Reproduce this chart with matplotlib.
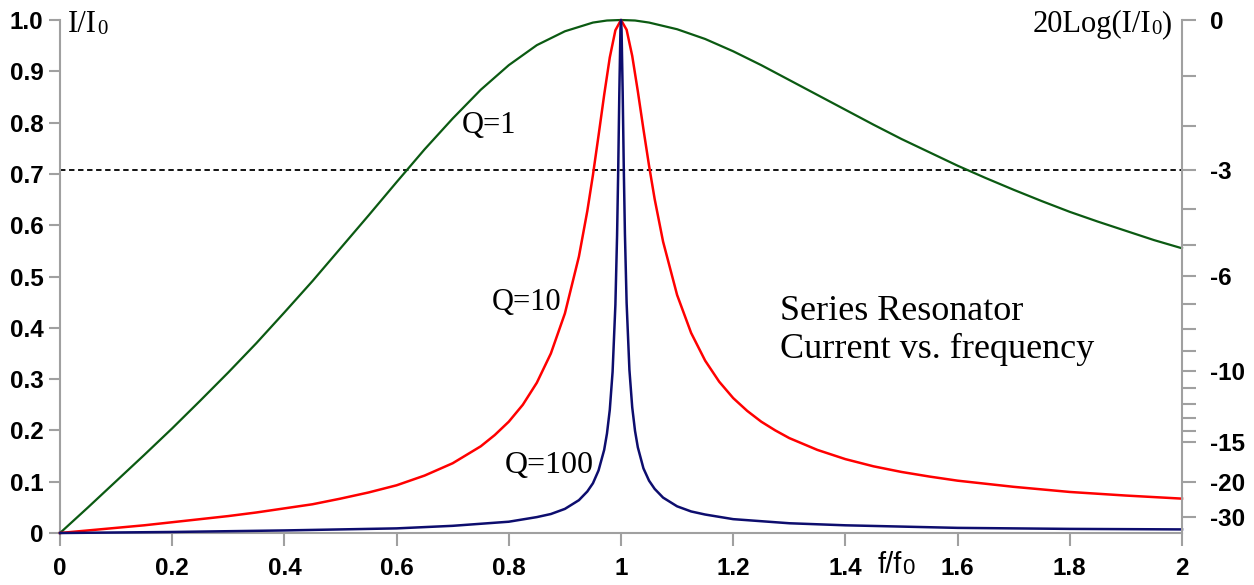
import numpy as np
import matplotlib
matplotlib.use("Agg")
import matplotlib.pyplot as plt

plt.rcParams['font.family'] = ['Liberation Sans', 'DejaVu Sans']

# values
q1_x = [0, 0.05, 0.1, 0.15, 0.2, 0.25, 0.3, 0.35, 0.4, 0.45, 0.5, 0.55, 0.6, 0.65,
        0.7, 0.75, 0.8, 0.85, 0.9, 0.95, 0.975, 1.0, 1.025, 1.05, 1.1, 1.15, 1.2, 1.25,
        1.3, 1.35, 1.4, 1.45, 1.5, 1.55, 1.6, 1.65, 1.7, 1.75, 1.8, 1.85, 1.9, 1.95, 2.0]
q1_y = [0, 0.050, 0.101, 0.152, 0.204, 0.258, 0.313, 0.370, 0.430, 0.491, 0.555, 0.619,
        0.684, 0.748, 0.808, 0.864, 0.912, 0.951, 0.978, 0.995, 0.999, 1.000, 0.999,
        0.995, 0.982, 0.963, 0.939, 0.912, 0.883, 0.854, 0.825, 0.796, 0.768, 0.742,
        0.716, 0.692, 0.669, 0.647, 0.626, 0.607, 0.589, 0.571, 0.555]

q10_x = [0, 0.05, 0.1, 0.15, 0.2, 0.25, 0.3, 0.35, 0.4, 0.45, 0.5, 0.55, 0.6, 0.65,
         0.7, 0.75, 0.775, 0.8, 0.825, 0.85, 0.875, 0.9, 0.925, 0.94, 0.95, 0.96, 0.97,
         0.98, 0.99, 1.0, 1.01, 1.02, 1.03, 1.04, 1.05, 1.06, 1.075, 1.1, 1.125, 1.15,
         1.175, 1.2, 1.225, 1.25, 1.275, 1.3, 1.35, 1.4, 1.45, 1.5, 1.55, 1.6, 1.7, 1.8,
         1.9, 2.0]
q10_y = [0, 0.005, 0.010, 0.015, 0.021, 0.027, 0.033, 0.040, 0.048, 0.056, 0.067, 0.079,
         0.093, 0.112, 0.136, 0.169, 0.191, 0.217, 0.250, 0.293, 0.350, 0.428, 0.539,
         0.628, 0.698, 0.775, 0.854, 0.927, 0.980, 1.000, 0.981, 0.930, 0.861, 0.787,
         0.716, 0.651, 0.568, 0.464, 0.390, 0.336, 0.295, 0.263, 0.238, 0.217, 0.200,
         0.185, 0.162, 0.144, 0.130, 0.119, 0.110, 0.102, 0.090, 0.080, 0.073, 0.067]

q100_x = [0, 0.2, 0.4, 0.5, 0.6, 0.7, 0.8, 0.85, 0.875, 0.9, 0.925, 0.94, 0.95, 0.96,
          0.97, 0.975, 0.98, 0.985, 0.99, 0.993, 0.995, 0.997, 0.999, 1.0, 1.001, 1.003,
          1.005, 1.007, 1.01, 1.015, 1.02, 1.025, 1.03, 1.04, 1.05, 1.06, 1.075, 1.1,
          1.125, 1.15, 1.2, 1.3, 1.4, 1.6, 1.8, 2.0]
q100_y = [0, 0.002, 0.005, 0.007, 0.009, 0.014, 0.022, 0.031, 0.037, 0.047, 0.064,
          0.081, 0.097, 0.122, 0.162, 0.194, 0.240, 0.314, 0.445, 0.580, 0.706, 0.857,
          0.981, 1.000, 0.981, 0.858, 0.708, 0.583, 0.449, 0.318, 0.245, 0.199, 0.167,
          0.126, 0.102, 0.086, 0.069, 0.052, 0.042, 0.036, 0.027, 0.019, 0.015, 0.010,
          0.008, 0.007]

half_power = 0.707
x_ticks = [0, 0.2, 0.4, 0.6, 0.8, 1, 1.2, 1.4, 1.6, 1.8, 2]
x_labels = ['0', '0.2', '0.4', '0.6', '0.8', '1', '1.2', '1.4', '1.6', '1.8', '2']
y_ticks = [0, 0.1, 0.2, 0.3, 0.4, 0.5, 0.6, 0.7, 0.8, 0.9, 1.0]
y_labels = ['0', '0.1', '0.2', '0.3', '0.4', '0.5', '0.6', '0.7', '0.8', '0.9', '1.0']
db_major = [0, -3, -6, -10, -15, -20, -30]
db_minor = [-1, -2, -4, -5, -7, -8, -9, -11, -12, -13, -14]

spine_col = '#a0a0a0'
serif = 'Liberation Serif'

fig = plt.figure(figsize=(12.54, 5.85), dpi=100)
ax = fig.add_axes([60 / 1254, 52 / 585, 1122 / 1254, 513 / 585])

ax.plot(q1_x, q1_y, color='#0b5a12', lw=1.6, clip_on=False, zorder=3)
ax.plot(q10_x, q10_y, color='#ff0000', lw=1.8, clip_on=False, zorder=3)
ax.plot(q100_x, q100_y, color='#0d0d6e', lw=1.8, clip_on=False, zorder=4)
ax.axhline(half_power, color='black', lw=1.3, ls=(0, (3, 2)), zorder=2)

ax.set_xlim(0, 2)
ax.set_ylim(0, 1)
ax.set_xticks(x_ticks)
ax.set_xticklabels(x_labels, fontweight='bold')
ax.set_yticks(y_ticks)
ax.set_yticklabels(y_labels, fontweight='bold')
for s in ['top', 'right']:
    ax.spines[s].set_visible(False)
for s in ['left', 'bottom']:
    ax.spines[s].set_color(spine_col)
    ax.spines[s].set_linewidth(1.5)
ax.tick_params(axis='y', length=8, width=1.5, color=spine_col, pad=4, labelsize=17.5)
ax.tick_params(axis='x', length=9, width=1.5, color=spine_col, pad=8, labelsize=17.5)

# right dB axis
ax2 = ax.twinx()
ax2.set_ylim(0, 1)
ax2.set_yticks([10 ** (d / 20) for d in db_major])
ax2.set_yticklabels([str(d) for d in db_major], fontweight='bold')
ax2.set_yticks([10 ** (d / 20) for d in db_minor], minor=True)
for s in ['top', 'left', 'bottom']:
    ax2.spines[s].set_visible(False)
ax2.spines['right'].set_color(spine_col)
ax2.spines['right'].set_linewidth(1.5)
ax2.tick_params(axis='y', which='both', length=10, width=1.5, color=spine_col,
                pad=10, labelsize=17.5)


def with_sub(t, size, family, tail=''):
    # small "0" sitting just after a text, optionally followed by more text
    z = ax.annotate('0', xy=(1, 0), xycoords=t, fontsize=size, family=family,
                    va='bottom', ha='left')
    if tail:
        ax.annotate(tail, xy=(1, 0), xycoords=(z, t), fontsize=t.get_fontsize(),
                    family=family, va='bottom', ha='left')


t = ax.text(0.014, 0.977, 'I/I', family=serif, fontsize=22, va='baseline')
with_sub(t, 15, serif)
t = ax.text(1.733, 0.977, '20Log(I/I', family=serif, fontsize=22, va='baseline')
with_sub(t, 15, serif, ')')
ax.text(0.717, 0.780, 'Q=1', family=serif, fontsize=22, va='baseline')
ax.text(0.770, 0.435, 'Q=10', family=serif, fontsize=22, va='baseline')
ax.text(0.793, 0.117, 'Q=100', family=serif, fontsize=23, va='baseline')
ax.text(1.283, 0.415, 'Series Resonator', family=serif, fontsize=26, va='baseline')
ax.text(1.283, 0.341, 'Current vs. frequency', family=serif, fontsize=26, va='baseline')
t = fig.text(878 / 1254, 12 / 585, 'f/f', fontsize=21, va='baseline')
with_sub(t, 16, 'Liberation Sans')

fig.savefig('out.png', dpi=100)
